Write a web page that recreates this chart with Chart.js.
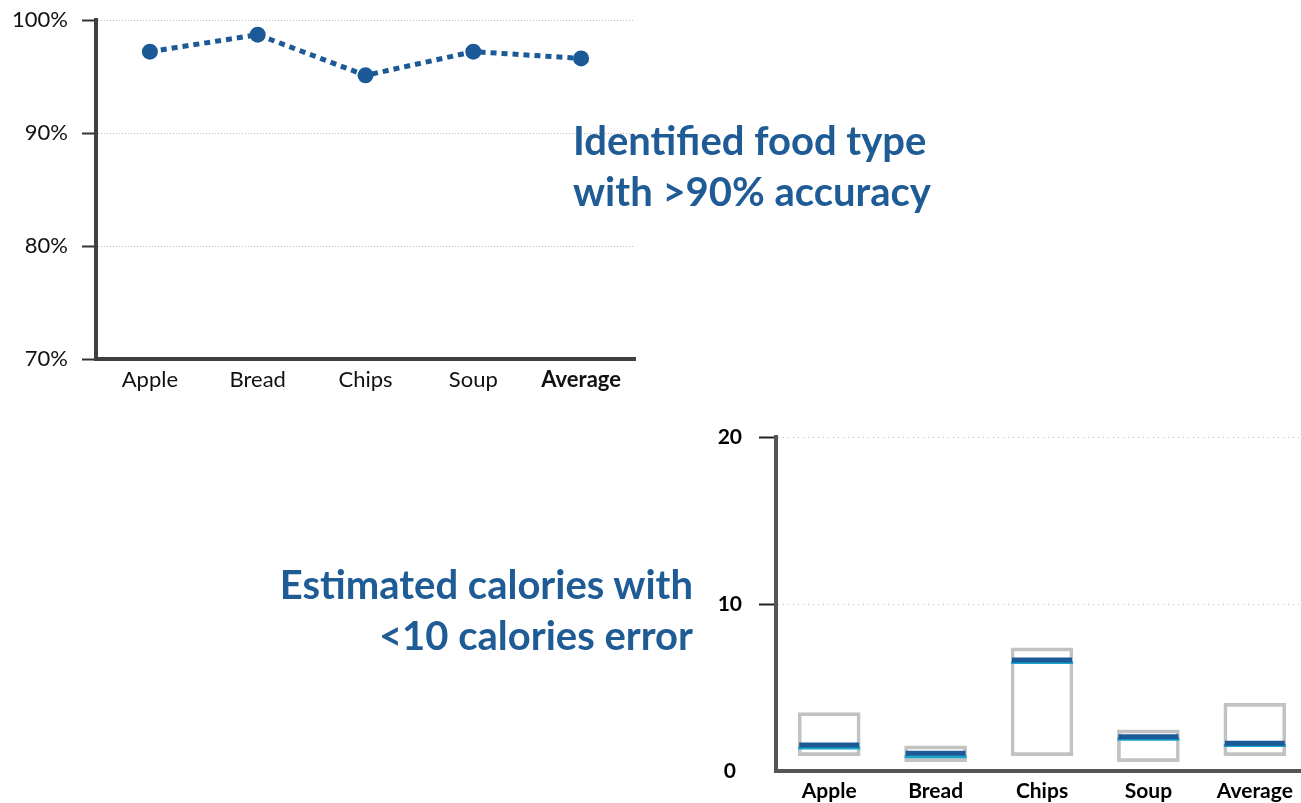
<!DOCTYPE html>
<html>
<head>
<meta charset="utf-8">
<script src="https://cdn.jsdelivr.net/npm/chart.js@4/dist/chart.umd.min.js"></script>
<style>
  html, body { margin: 0; padding: 0; background: #fff; width: 1301px; height: 803px; overflow: hidden; position: relative; }
  .c { position: absolute; }
  .title { position: absolute; font-family: Lato, sans-serif; font-weight: bold; font-size: 40px; line-height: 51px; color: #1f5b95; white-space: nowrap; }
</style>
</head>
<body>
<div class="c" style="left:0;top:0;width:650px;height:400px;"><canvas id="acc"></canvas></div>
<div class="c" style="left:680px;top:417px;width:630px;height:386px;"><canvas id="cal"></canvas></div>
<div class="title" style="left:573px;top:115px;">Identified food type<br>with &gt;90% accuracy</div>
<div class="title" style="right:608px;top:559px;text-align:right;">Estimated calories with<br>&lt;10 calories error</div>
<script>
// ---- data ----
const categories = ['Apple', 'Bread', 'Chips', 'Soup', 'Average'];
const accuracy = [97.2, 98.7, 95.1, 97.2, 96.6];          // %
const calLow = [0.92, 0.56, 0.92, 0.56, 0.92];            // box bottom
const calHigh = [3.5, 1.5, 7.37, 2.46, 4.05];             // box top
const calMean = [1.56, 1.06, 6.65, 2.05, 1.66];           // dark line
const calMedian = [1.38, 0.86, 6.5, 1.9, 1.52];           // light line
const accTicks = [70, 80, 90, 100];
const calTicks = [0, 10, 20];

const DARK = '#1b5a96';
const CYAN = '#1aa3cc';
const GRID = '#bdbdbd';

function fixSize(prop, val) {
  return (s) => {
    s[prop] = val;
    s.paddingTop = 0; s.paddingBottom = 0; s.paddingLeft = 0; s.paddingRight = 0;
  };
}

// ---- chart 1: accuracy ----
new Chart(document.getElementById('acc'), {
  type: 'line',
  data: {
    labels: categories,
    datasets: [{
      data: accuracy,
      borderColor: DARK,
      backgroundColor: DARK,
      borderWidth: 5,
      borderDash: [6, 5],
      pointRadius: 8,
      pointBackgroundColor: DARK,
      pointBorderColor: DARK,
      pointBorderWidth: 0,
      tension: 0
    }]
  },
  options: {
    responsive: true,
    maintainAspectRatio: false,
    animation: false,
    events: [],
    layout: { autoPadding: false, padding: { top: 20, right: 15, left: 0, bottom: 0 } },
    plugins: { legend: { display: false }, tooltip: { enabled: false } },
    scales: {
      x: {
        offset: true,
        afterFit: fixSize('height', 41),
        grid: { display: false, drawTicks: false },
        border: { display: true, color: '#3f3f3f', width: 4 },
        ticks: {
          padding: 8,
          color: '#111',
          font: (c) => ({ family: 'Lato', size: 22, weight: c.index === 4 ? 'bold' : 'normal' })
        }
      },
      y: {
        min: accTicks[0], max: accTicks[accTicks.length - 1],
        afterFit: fixSize('width', 96),
        afterBuildTicks: (s) => { s.ticks = accTicks.map(v => ({ value: v })); },
        border: { display: true, color: '#3f3f3f', width: 4, dash: [1, 2] },
        grid: {
          color: GRID, lineWidth: 1,
          drawTicks: true, tickLength: 14, tickColor: '#333', tickWidth: 2, tickBorderDash: []
        },
        ticks: {
          padding: 14,
          color: '#111',
          font: { family: 'Lato', size: 22 },
          callback: (v) => v + '%'
        }
      }
    }
  }
});

// ---- chart 2: calories ----
new Chart(document.getElementById('cal'), {
  data: {
    labels: categories,
    datasets: [
      {
        type: 'line',
        data: calMean,
        showLine: false,
        pointStyle: 'line',
        pointRadius: 30,
        pointBorderWidth: 5,
        pointBorderColor: DARK,
        pointBackgroundColor: DARK,
        order: 0
      },
      {
        type: 'line',
        data: calMedian,
        showLine: false,
        pointStyle: 'line',
        pointRadius: 31,
        pointBorderWidth: 3,
        pointBorderColor: CYAN,
        pointBackgroundColor: CYAN,
        order: 1
      },
      {
        type: 'bar',
        data: calLow.map((lo, i) => [lo, calHigh[i]]),
        backgroundColor: 'rgba(255,255,255,0)',
        borderColor: '#c2c2c2',
        borderWidth: 3,
        borderSkipped: false,
        barThickness: 62,
        order: 2
      }
    ]
  },
  options: {
    responsive: true,
    maintainAspectRatio: false,
    animation: false,
    events: [],
    layout: { autoPadding: false, padding: { top: 20, right: 2, left: 0, bottom: 0 } },
    plugins: { legend: { display: false }, tooltip: { enabled: false } },
    scales: {
      x: {
        type: 'category',
        offset: true,
        afterFit: fixSize('height', 32),
        grid: { display: false, drawTicks: false, offset: true },
        border: { display: true, color: '#555', width: 4 },
        ticks: {
          padding: 8,
          color: '#000',
          font: { family: 'Lato', size: 21, weight: 'bold' }
        }
      },
      y: {
        min: calTicks[0], max: calTicks[calTicks.length - 1],
        afterFit: fixSize('width', 96),
        afterBuildTicks: (s) => { s.ticks = calTicks.map(v => ({ value: v })); },
        border: { display: true, color: '#555', width: 4, dash: [1, 4] },
        grid: {
          color: GRID, lineWidth: 1,
          drawTicks: true, tickLength: 17,
          tickColor: (c) => (c.tick && c.tick.value === 0) ? 'rgba(0,0,0,0)' : '#222',
          tickWidth: 2, tickBorderDash: []
        },
        ticks: {
          padding: 17,
          crossAlign: 'center',
          color: '#000',
          font: { family: 'Lato', size: 21, weight: 'bold' }
        }
      }
    }
  }
});
</script>
</body>
</html>
